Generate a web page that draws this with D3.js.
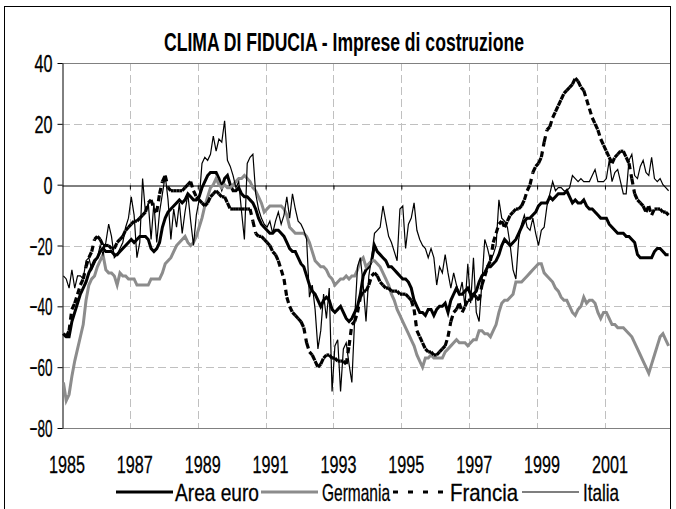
<!DOCTYPE html>
<meta charset="utf-8">
<title>CLIMA DI FIDUCIA - Imprese di costruzione</title>
<script src="https://cdn.jsdelivr.net/npm/d3@7"></script>
<style>
  body { margin: 0; background: #fff; }
  text { font-family: "Liberation Sans Narrow", "Liberation Sans", Arial, sans-serif; fill: #000; }
</style>
<body>
<div id="chart"></div>
<script>
// monthly values, Jan 1985 - Nov 2002 (one row per year)
var areaEuro = [
  -49, -50, -50, -45, -42, -39, -36, -34, -32, -29, -27, -25,
  -24, -22, -21, -22, -22, -22, -23, -23, -22, -21, -20, -19,
  -18, -19, -18, -17, -17, -17, -18, -21, -22, -21, -19, -14,
  -11, -9, -8, -7, -6, -5, -6, -5, -3, -4, -5, -5,
  -4, -1, 1, 3, 4, 4, 4, 2, -1, 2, 3, 0,
  -2, -2, -1, -3, -4, -4, -5, -6, -8, -11, -13, -14,
  -15, -16, -16, -15, -15, -16, -17, -19, -21, -22, -22, -24,
  -26, -27, -30, -33, -35, -36, -38, -40, -38, -37, -38, -41,
  -42, -41, -40, -42, -44, -45, -44, -42, -40, -36, -30, -28,
  -27, -25, -20, -22, -23, -24, -25, -27, -27, -28, -29, -30,
  -31, -31, -32, -34, -38, -40, -42, -42, -43, -41, -41, -43,
  -41, -40, -40, -39, -42, -38, -36, -34, -36, -36, -35, -34,
  -36, -36, -35, -32, -30, -29, -27, -27, -26, -25, -23, -20,
  -18, -19, -20, -19, -18, -16, -14, -12, -11, -11, -10, -9,
  -7, -6, -6, -6, -4, -5, -4, -3, -3, -3, -2, -4,
  -6, -5, -6, -6, -5, -7, -8, -8, -9, -10, -11, -11,
  -11, -13, -14, -15, -16, -16, -16, -17, -17, -18, -19, -23,
  -24, -24, -24, -24, -24, -22, -21, -21, -22, -23, -23
];
var germania = [
  -65, -71, -69, -63, -58, -54, -50, -46, -38, -33, -31, -30,
  -27, -25, -23, -28, -29, -29, -30, -33, -29, -30, -30, -31,
  -31, -31, -33, -33, -33, -33, -33, -31, -31, -31, -31, -29,
  -26, -25, -24, -22, -20, -19, -18, -17, -19, -20, -19, -17,
  -14, -11, -7, -4, -1, 0, 2, 0, -1, 0, -1, -1,
  0, 1, 2, 2, 3, 2, 1, -1, -2, -4, -6, -9,
  -8, -7, -7, -7, -7, -7, -8, -10, -14, -15, -16, -16,
  -16, -16, -17, -19, -22, -25, -26, -27, -27, -28, -30, -31,
  -33, -32, -31, -31, -30, -31, -30, -30, -28, -25, -24, -27,
  -26, -25, -25, -26, -27, -29, -31, -33, -36, -38, -41, -43,
  -45, -47, -49, -51, -53, -56, -58, -60, -57, -57, -56, -57,
  -57, -57, -57, -55, -54, -53, -52, -51, -52, -52, -52, -53,
  -52, -51, -51, -48, -48, -49, -49, -50, -48, -46, -42, -39,
  -38, -38, -37, -36, -32, -32, -32, -31, -30, -29, -28, -27,
  -26, -26, -29, -30, -31, -32, -34, -35, -37, -38, -38, -40,
  -42, -43, -41, -40, -37, -39, -38, -38, -39, -42, -44, -42,
  -42, -44, -46, -46, -47, -47, -47, -48, -49, -50, -52, -54,
  -56, -58, -60, -62, -59, -56, -53, -50, -49, -51, -53
];
var francia = [
  -49, -50, -48, -41, -39, -36, -33, -31, -27, -24, -22, -18,
  -17, -18, -20, -20, -20, -21, -21, -19, -18, -17, -15, -14,
  -13, -12, -12, -11, -10, -9, -6, -5, -8, -9, -3, 1,
  3, -1, -2, -2, -2, -2, -2, -1, 0, 1, -2, -4,
  -5, -6, -7, -6, -4, -3, -2, -3, -4, -4, -6, -8,
  -8, -8, -8, -8, -8, -8, -8, -12, -16, -17, -17, -18,
  -19, -20, -22, -23, -25, -28, -31, -37, -40, -42, -43, -44,
  -45, -47, -52, -55, -56, -58, -60, -59, -57, -56, -56, -57,
  -57, -58, -58, -58, -59, -53, -46, -45, -42, -37, -35, -35,
  -33, -30, -29, -30, -32, -33, -34, -34, -35, -35, -35, -36,
  -36, -36, -37, -38, -41, -48, -50, -52, -54, -55, -55, -56,
  -56, -55, -54, -53, -50, -45, -42, -41, -39, -42, -40, -38,
  -38, -36, -37, -38, -33, -30, -27, -25, -19, -16, -13, -12,
  -14, -12, -10, -9, -8, -8, -7, -5, -2, 0, 4, 6,
  7, 9, 14, 18, 19, 22, 24, 26, 28, 30, 31, 32,
  33, 35, 34, 32, 31, 28, 25, 22, 20, 18, 15, 13,
  11, 9, 7, 9, 10, 11, 11, 9, 7, 2, -3, -5,
  -6, -7, -9, -7, -10, -8, -8, -8, -9, -9, -10
];
var italia = [
  -30, -31, -34, -28, -34, -30, -30, -31, -25, -24, -28, -26,
  -24, -20, -23, -19, -13, -17, -24, -23, -21, -19, -14, -11,
  -4, -10, -24, -19, 2, -9, -6, -18, -6, -19, -9, -3,
  3, -5, -18, -8, -14, -6, -16, -9, -3, -12, -20, -10,
  -5, 7, 9, 8, 10, 16, 11, 15, 14, 21, 8, 6,
  3, -1, 1, -9, -18, 7, 9, 10, -3, -8, -11, -13,
  -14, -12, -16, -12, -9, -13, -10, -4, -11, -3, -8, -12,
  -13, -15, -18, -37, -33, -41, -54, -48, -36, -44, -34, -68,
  -53, -51, -68, -54, -52, -59, -65, -44, -27, -24, -33, -45,
  -30, -24, -16, -15, -14, -7, -12, -17, -19, -22, -25, -8,
  -7, -21, -13, -11, -6, -15, -18, -20, -21, -24, -21, -24,
  -33, -27, -29, -23, -29, -34, -29, -33, -36, -32, -40, -26,
  -39, -24, -42, -45, -32, -18, -21, -25, -23, -20, -5, -11,
  -12, -14, -20, -28, -31, -18, -13, -10, -14, -15, -11, -16,
  -20, -15, -14, -7, -3, 1, -2, -1, -1, -2, -2, -1,
  3, 2, 1, 2, 1, 1, 1, 3, 5, 1, 1, 1,
  2, 8, 1, 4, 5, 1, -3, -3, 8, 10, 3, 2,
  6, 8, 4, 3, 9, 2, 1, 2, 0, -1, -2
];

var yTicks = [-80, -60, -40, -20, 0, 20, 40];
var yearLabels = ["1985", "1987", "1989", "1991", "1993", "1995", "1997", "1999", "2001"];
var seriesNames = ["Area euro", "Germania", "Francia", "Italia"];

var width = 676, height = 509;
var nMonths = areaEuro.length;

// plot area 62..670 x 63..428
var x = d3.scaleLinear().domain([0, nMonths]).range([62, 670]);
var y = d3.scaleLinear().domain([-80, 40]).range([428, 63]);

var svg = d3.select("#chart").append("svg")
    .attr("width", width)
    .attr("height", height);

// the original type is tall and narrow: force the drawn width of each text
function fitWidth(sel, w) {
  sel.attr("textLength", w).attr("lengthAdjust", "spacingAndGlyphs");
}
function numWidth(s) {
  s = String(s);
  return s.replace("-", "").length * 9 + (s.indexOf("-") >= 0 ? 5 : 0);
}

// chart frame
svg.append("rect")
    .attr("x", 4.5).attr("y", 6.5)
    .attr("width", 666).attr("height", 530)
    .attr("fill", "none").attr("stroke", "#000");

// title
svg.append("text")
    .attr("x", 344).attr("y", 51)
    .attr("text-anchor", "middle")
    .style("font-size", "25px")
    .style("font-weight", "bold")
    .text("CLIMA DI FIDUCIA - Imprese di costruzione")
    .call(fitWidth, 360);

// horizontal gridlines
svg.append("g").selectAll("line")
    .data([20, -20, -40, -60])
  .enter().append("line")
    .attr("x1", x(0)).attr("x2", x(nMonths))
    .attr("y1", function(d) { return Math.round(y(d)) + 0.5; })
    .attr("y2", function(d) { return Math.round(y(d)) + 0.5; })
    .attr("stroke", "#c0c0c0")
    .attr("stroke-dasharray", "8,4");

// vertical gridlines every two years
var boundaries = d3.range(1, yearLabels.length).map(function(k) { return k * 24; });
svg.append("g").selectAll("line")
    .data(boundaries)
  .enter().append("line")
    .attr("x1", function(d) { return Math.round(x(d)) + 0.5; })
    .attr("x2", function(d) { return Math.round(x(d)) + 0.5; })
    .attr("y1", y(40)).attr("y2", y(-80))
    .attr("stroke", "#c0c0c0")
    .attr("stroke-dasharray", "8,4");

// plot border top/bottom
svg.append("g").selectAll("line")
    .data([40, -80])
  .enter().append("line")
    .attr("x1", x(0)).attr("x2", x(nMonths))
    .attr("y1", function(d) { return Math.round(y(d)) + 0.5; })
    .attr("y2", function(d) { return Math.round(y(d)) + 0.5; })
    .attr("stroke", "#808080");

// y axis
var yAxis = svg.append("g")
    .attr("transform", "translate(62.5,0)")
    .call(d3.axisLeft(y).tickValues(yTicks).tickSize(5).tickSizeOuter(0).tickPadding(5));
yAxis.selectAll("text")
    .style("font-size", "24px")
    .attr("dy", "0.36em")
    .attr("stroke", "#000").attr("stroke-width", 0.3)
    .each(function(d) { d3.select(this).call(fitWidth, numWidth(d)); });
yAxis.selectAll("path, line").attr("stroke", "#000");

// x axis at zero
var xAxis = svg.append("g")
    .attr("transform", "translate(0," + (Math.round(y(0)) + 0.5) + ")")
    .call(d3.axisBottom(x).tickValues(boundaries).tickSize(4).tickSizeOuter(0).tickFormat(""));
xAxis.selectAll("path, line").attr("stroke", "#000");

// year labels at bottom
svg.append("g").selectAll("text")
    .data(yearLabels)
  .enter().append("text")
    .attr("x", function(d, i) { return x(i * 24) + 5; })
    .attr("y", 473)
    .attr("text-anchor", "middle")
    .style("font-size", "24px")
    .attr("stroke", "#000").attr("stroke-width", 0.3)
    .text(function(d) { return d; })
    .call(fitWidth, 36);

// lines
var line = d3.line()
    .x(function(d, i) { return x(i + 0.5); })
    .y(function(d) { return y(d); });

svg.append("path").datum(areaEuro)
    .attr("d", line)
    .attr("fill", "none").attr("stroke", "#000").attr("stroke-width", 3);

svg.append("path").datum(germania)
    .attr("d", line)
    .attr("fill", "none").attr("stroke", "#8c8c8c").attr("stroke-width", 3);

// Francia: dash pattern restarts on every segment
var segLine = d3.line()
    .x(function(d) { return x(d[0] + 0.5); })
    .y(function(d) { return y(d[1]); });
var franciaSegs = d3.pairs(francia.map(function(v, i) { return [i, v]; }));
svg.append("g").selectAll("path")
    .data(franciaSegs)
  .enter().append("path")
    .attr("d", segLine)
    .attr("fill", "none").attr("stroke", "#000").attr("stroke-width", 3.2)
    .attr("stroke-dasharray", "6,5");

svg.append("path").datum(italia)
    .attr("d", line)
    .attr("fill", "none").attr("stroke", "#000").attr("stroke-width", 1.2);

// legend
var legendY = 492;
var legendItems = [
  {name: seriesNames[0], x1: 116, x2: 173, tx: 175, tw: 84, stroke: "#000", w: 3, dash: null},
  {name: seriesNames[1], x1: 261, x2: 318, tx: 322, tw: 68, stroke: "#8c8c8c", w: 3, dash: null},
  {name: seriesNames[2], x1: 393, x2: 446, tx: 450, tw: 68, stroke: "#000", w: 3.2, dash: "5,10"},
  {name: seriesNames[3], x1: 522, x2: 579, tx: 583, tw: 36, stroke: "#000", w: 1.2, dash: null}
];
var lg = svg.append("g").selectAll("g")
    .data(legendItems)
  .enter().append("g");
lg.append("line")
    .attr("x1", function(d) { return d.x1; })
    .attr("x2", function(d) { return d.x2; })
    .attr("y1", legendY).attr("y2", legendY)
    .attr("stroke", function(d) { return d.stroke; })
    .attr("stroke-width", function(d) { return d.w; })
    .attr("stroke-dasharray", function(d) { return d.dash; });
lg.append("text")
    .attr("x", function(d) { return d.tx; })
    .attr("y", legendY + 8.5)
    .style("font-size", "24px")
    .attr("stroke", "#000").attr("stroke-width", 0.3)
    .text(function(d) { return d.name; })
    .each(function(d) { d3.select(this).call(fitWidth, d.tw); });
</script>
</body>
